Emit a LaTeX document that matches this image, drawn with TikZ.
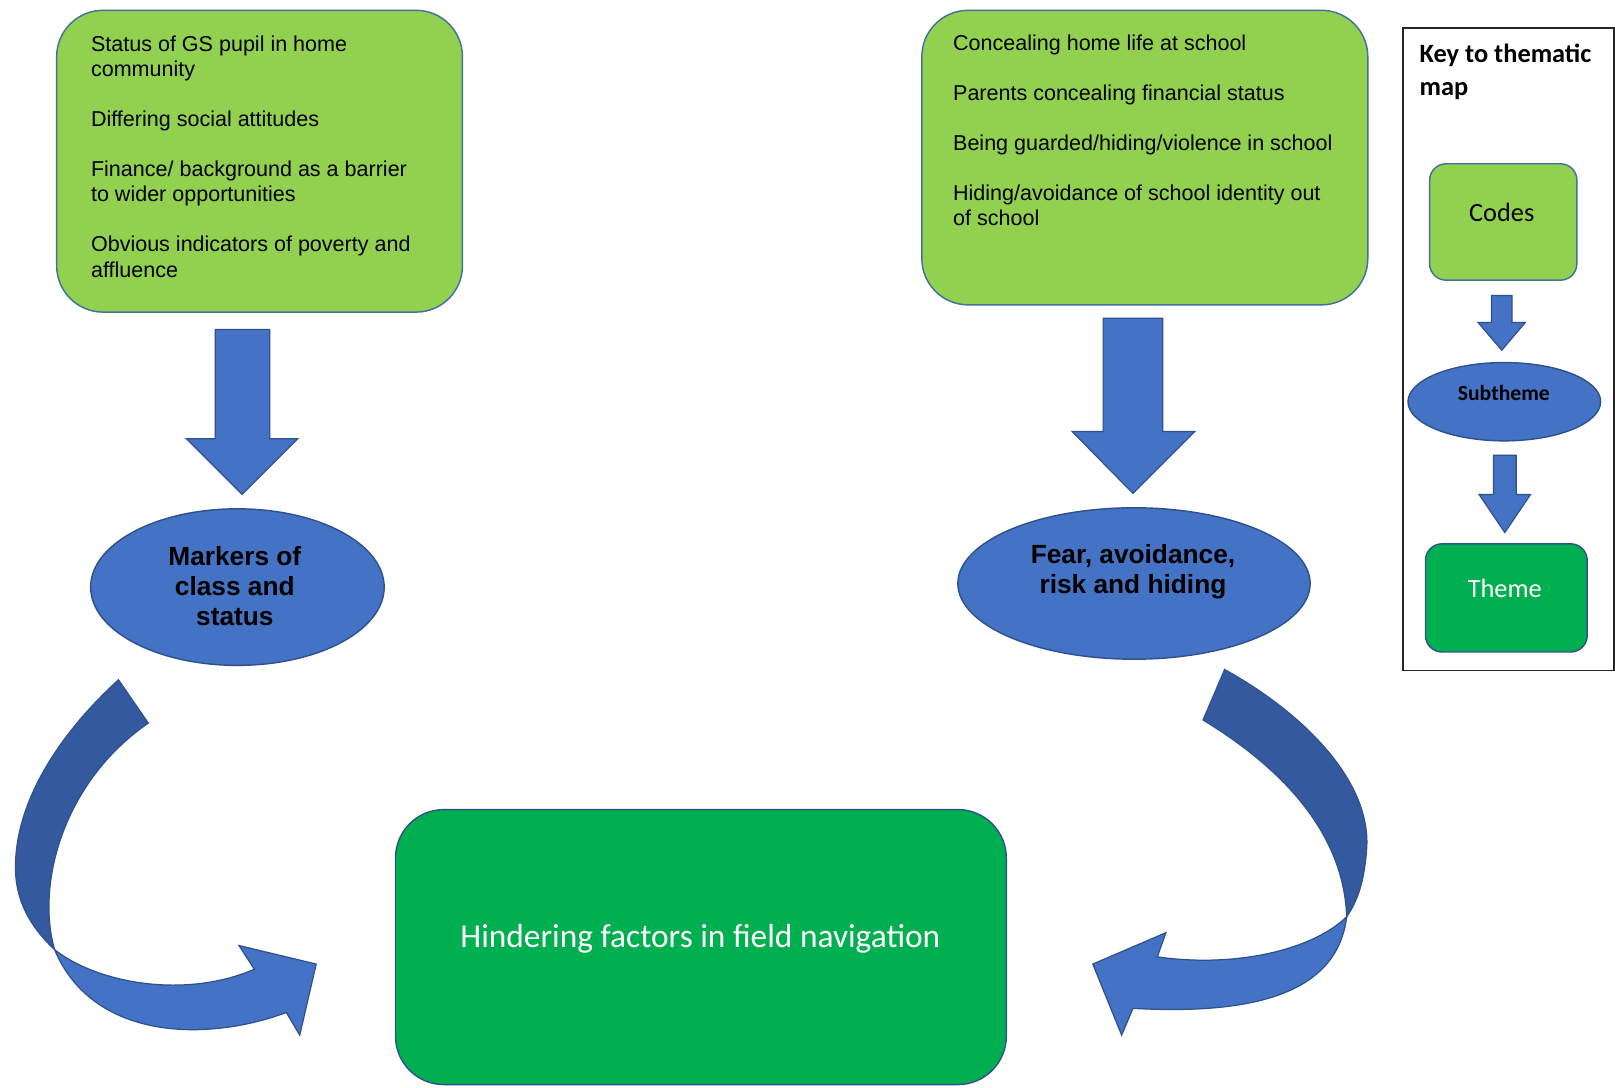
\documentclass[tikz,border=0pt]{standalone}
\usepackage{fontspec}
\setmainfont{Liberation Sans}
\newfontfamily\calibri{Carlito}
\usetikzlibrary{shapes.geometric}

\definecolor{codegreen}{HTML}{92D050}
\definecolor{themegreen}{HTML}{00B050}
\definecolor{subblue}{HTML}{4472C4}
\definecolor{edgeblue}{HTML}{2F528F}
\definecolor{boxedge}{HTML}{41719C}
\definecolor{backblue}{HTML}{35599F}

\begin{document}
\begin{tikzpicture}[x=0.5pt,y=-0.5pt,
  codebox/.style={draw=boxedge, line width=0.7pt, fill=codegreen,
    rounded corners=22.5pt, inner sep=0pt},
  themebox/.style={draw=edgeblue, line width=0.7pt, fill=themegreen,
    rounded corners=23.5pt, inner sep=0pt},
  subtheme/.style={ellipse, draw=edgeblue, line width=0.7pt, fill=subblue,
    inner sep=0pt},
  blockarrow/.style={draw=edgeblue, line width=0.6pt, fill=subblue},
  backarrow/.style={draw=edgeblue, line width=0.6pt, fill=backblue},
  codetext/.style={anchor=base west, inner sep=0pt, text=black},
  subtext/.style={anchor=base, inner sep=0pt, text=black},
  keyfont/.style={font=\calibri\fontsize{12.8}{16}\selectfont}]

\useasboundingbox (0,0) rectangle (1568,1056);
\fill[white] (0,0) rectangle (1568,1056);

% ---- code boxes -------------------------------------------------------
\node[codebox, minimum width=197pt, minimum height=146.5pt] (lcodes) at (252,156.5) {};
\node[codebox, minimum width=216.5pt, minimum height=143pt] (rcodes) at (1111.5,153) {};

\node[codetext] (ltxt) at (88,50) {\parbox[t]{185pt}{\fontsize{10.45}{12.25}\selectfont
  \raggedright\setlength{\parskip}{12pt}%
  Status of GS pupil in home\\ community\par
  Differing social attitudes\par
  Finance/ background as a barrier\\ to wider opportunities\par
  Obvious indicators of poverty and\\ affluence}};

\node[codetext] (rtxt) at (925,49) {\parbox[t]{200pt}{\fontsize{10.45}{12.25}\selectfont
  \raggedright\setlength{\parskip}{12pt}%
  Concealing home life at school\par
  Parents concealing financial status\par
  Being guarded/hiding/violence in school\par
  Hiding/avoidance of school identity out\\ of school}};

% ---- arrows from codes down to subthemes --------------------------------
\path[blockarrow] (209,320) -- (262,320) -- (262,426) -- (289,426) -- (235,480)
  -- (181,426) -- (209,426) -- cycle;
\path[blockarrow] (1071,309) -- (1129,309) -- (1129,419) -- (1160,419) -- (1100,479)
  -- (1041,419) -- (1071,419) -- cycle;

% ---- subthemes ---------------------------------------------------------
\node[subtheme, minimum width=142.5pt, minimum height=76pt] (lsub) at (230.5,570) {};
\node[subtheme, minimum width=171pt, minimum height=73.5pt] (rsub) at (1101,566.5) {};

\node[subtext] (lsubtxt) at (228,549) {\parbox[t]{120pt}{\centering
  \fontsize{12.75}{14.5}\selectfont\bfseries
  Markers of\\ class and\\ status}};
\node[subtext] (rsubtxt) at (1100,547) {\parbox[t]{150pt}{\centering
  \fontsize{12.75}{14.5}\selectfont\bfseries
  Fear, avoidance,\\ risk and hiding}};

% ---- curved arrows into the theme -------------------------------------
\path[backarrow] (115,660) .. controls (55,715) and (15,780) .. (15,842)
  .. controls (15,880) and (35,905) .. (53,922)
  .. controls (35,860) and (60,760) .. (144,702) -- cycle;
\path[blockarrow] (53,922) .. controls (95,955) and (180,970) .. (247,941)
  -- (232,918) -- (307,936) -- (291,1005) -- (278,983)
  .. controls (200,1012) and (90,1010) .. (53,922) -- cycle;

\path[backarrow] (1189,650) .. controls (1270,695) and (1330,760) .. (1327,822)
  .. controls (1325,855) and (1318,875) .. (1307.5,890)
  .. controls (1305,820) and (1260,755) .. (1168,699) -- cycle;
\path[blockarrow] (1307.5,890) .. controls (1275,922) and (1200,940) .. (1123.6,929)
  -- (1132,905.5) -- (1061,936) -- (1089,1005) -- (1100,979)
  .. controls (1210,985) and (1298,968) .. (1307.5,890) -- cycle;

% ---- theme -------------------------------------------------------------
\node[themebox, minimum width=296.5pt, minimum height=133.5pt] (theme) at (680.5,919.5) {};
\node[anchor=base, inner sep=0pt, text=white,
  font=\calibri\fontsize{16.2}{19}\selectfont] (themetxt) at (680,920)
  {Hindering factors in field navigation};

% ---- key ---------------------------------------------------------------
\node[draw=black!85, line width=0.9pt, fill=white, minimum width=102.5pt,
  minimum height=312pt, inner sep=0pt] (key) at (1464.5,339) {};
\node[codetext, keyfont] (keytitle) at (1378,61) {\parbox[t]{95pt}{\bfseries
  Key to thematic\\ map}};

\node[codebox, rounded corners=8pt, minimum width=71.5pt, minimum height=56.5pt]
  (kcodes) at (1459.5,215.5) {};
\node[subtext, keyfont] (kcodestxt) at (1458,215) {Codes};

\path[blockarrow] (1448,287) -- (1468,287) -- (1468,313) -- (1481,313) -- (1458,340)
  -- (1435,313) -- (1448,313) -- cycle;

\node[subtheme, minimum width=93.5pt, minimum height=38pt] (ksub) at (1460.5,390) {};
\node[subtext, font=\calibri\fontsize{10.5}{12}\selectfont\bfseries] (ksubtxt)
  at (1460,389) {Subtheme};

\path[blockarrow] (1450,442) -- (1472,442) -- (1472,480) -- (1486,480) -- (1461,517)
  -- (1436,480) -- (1450,480) -- cycle;

\node[themebox, rounded corners=8pt, minimum width=78.5pt, minimum height=52.5pt]
  (ktheme) at (1462.5,580.5) {};
\node[subtext, keyfont, text=white] (kthemetxt) at (1461,580) {Theme};

\end{tikzpicture}
\end{document}
